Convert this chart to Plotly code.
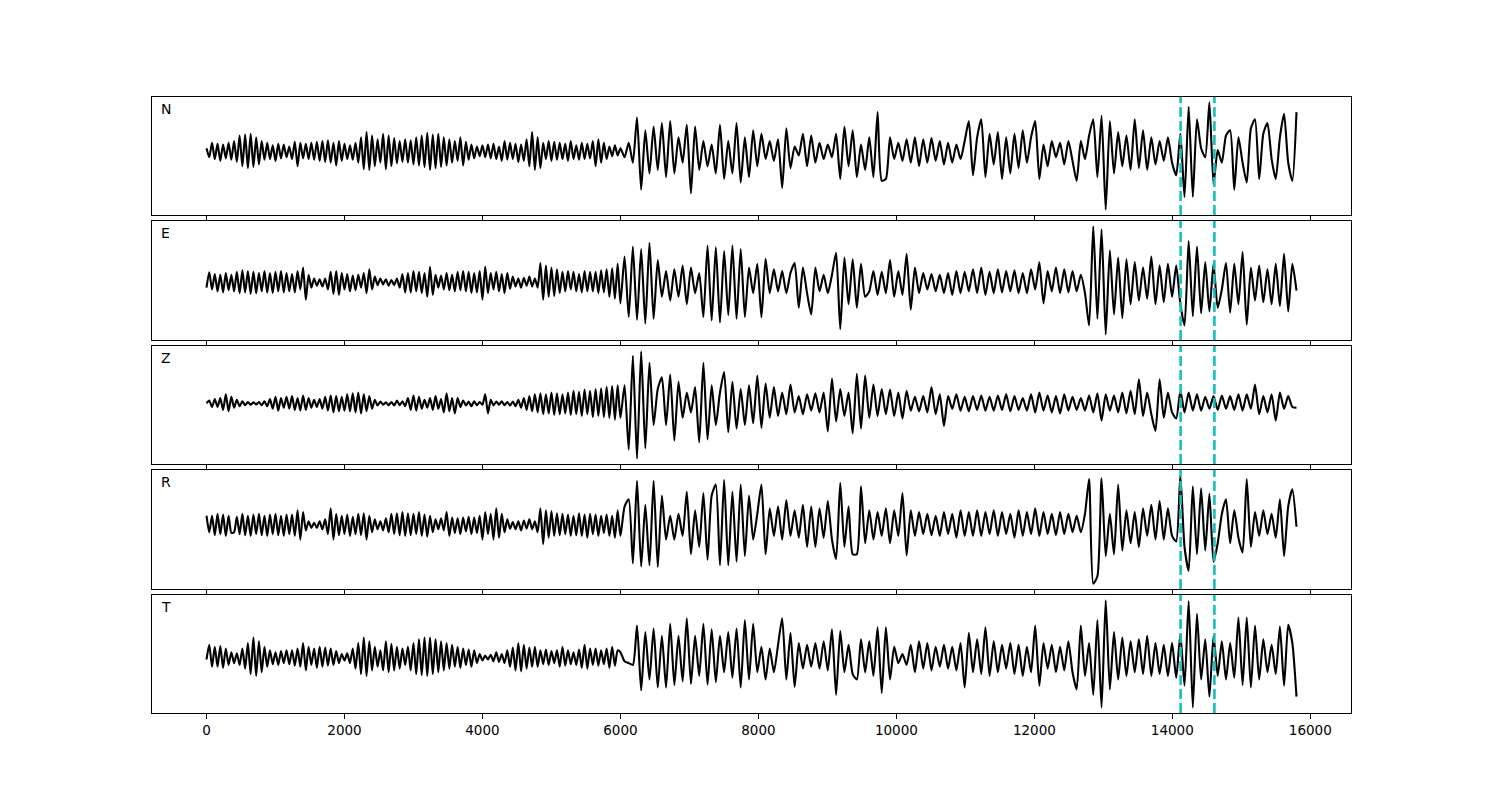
import numpy as np
import plotly.graph_objects as go

# ---------------- data (amplitudes, arbitrary units) -------------
components = ["N", "E", "Z", "R", "T"]
early_step = 40.0          # sample step of the first part (0 .. 5960)
late_start = 6000.0        # second part spans 6000 .. 15800
end_time = 15800.0
pick_times = [14120, 14610]
x_tick_vals = [0, 2000, 4000, 6000, 8000, 10000, 12000, 14000, 16000]
x_tick_text = ["0", "2000", "4000", "6000", "8000", "10000", "12000", "14000", "16000"]

N_early = [
    10, -15, 25, -20, 22, -25, 20, -18, 25, -22,
    30, -28, 45, -40, 48, -45, 50, -42, 40, -35,
    30, -22, 25, -20, 18, -25, 22, -18, 20, -15,
    15, -20, 28, -40, 25, -18, 22, -20, 25, -22,
    28, -25, 30, -28, 32, -30, 25, -38, 30, -25,
    22, -20, 18, -22, 25, -30, 40, -48, 55, -50,
    45, -40, 35, -30, 50, -48, 45, -40, 38, -32,
    30, -28, 35, -30, 32, -35, 40, -38, 45, -42,
    52, -50, 48, -45, 50, -42, 40, -38, 35, -30,
    30, -25, 40, -38, 28, -22, 20, -18, 15, -12,
    18, -15, 20, -18, 22, -20, 15, -25, 30, -22,
    25, -20, 22, -28, 20, -25, 35, -40, 55, -50,
    40, -45, 25, -20, 30, -25, 28, -22, 25, -20,
    22, -25, 30, -20, 18, -22, 25, -20, 22, -18,
    30, -40, 35, -30, 25, -20, 15, -12, 18, -10,
]
N_late = [
    10, -15, 25, -30, 95, -105, 60, -60, 70, -50,
    80, -70, 85, -60, 40, -30, 75, -115, 70, -50,
    30, -40, 20, -60, 75, -75, 30, -60, 80, -85,
    40, -70, 60, -40, 50, -20, 30, -25, 35, -100,
    65, -45, 15, -10, 50, -40, 45, -30, 25, -20,
    20, -15, 50, -75, 70, -40, 60, -70, 20, -50,
    40, -70, 110, -80, -75, 40, -20, 25, -25, 35,
    -30, 40, -40, 35, -30, 38, -25, 30, -35, 25,
    -30, 20, -20, 30, 85, -65, 40, 90, -70, 50,
    -35, 55, -75, 40, -60, 50, -45, 60, -30, 40,
    85, -75, 20, -40, 30, -15, 25, -35, 30, -25,
    -80, 30, -20, 45, 90, -70, 100, -160, 85, -60,
    55, -40, 45, -50, 90, -45, 60, -50, 40, -35,
    30, -25, 40, -30, -65, 50, -125, 125, -125, 90,
    10, -15, 137, -90, 5, -30, 45, 60, -105, 40,
    -30, -85, 65, 90, -75, 50, 80, -20, -75, 40,
    105, -30, -80, 110,
]

E_early = [
    -15, 27, -20, 22, -25, 20, -28, 25, -22, 20,
    -25, 28, -30, 32, -28, 30, -32, 28, -30, 25,
    -25, 30, -28, 25, -30, 28, -25, 30, -28, 25,
    -25, 22, -28, 30, -20, 40, -48, 20, -15, 10,
    -10, 8, -12, 10, -20, 28, -32, 30, -35, 25,
    -20, 22, -25, 18, -22, 20, -15, 25, -30, 35,
    -20, 15, -8, 10, -6, 8, -10, 6, -8, 10,
    -15, 22, -28, 25, -28, 30, -25, 28, -30, 25,
    -40, 42, -35, 20, -15, 18, -20, 25, -22, 20,
    -25, 28, -22, 30, -25, 28, -30, 25, -28, 30,
    -48, 42, -30, 25, -20, 28, -25, 22, -30, 25,
    -18, 15, -12, 10, -15, 12, -10, 15, -12, 10,
    -15, 52, -48, 45, -40, 40, -38, 35, -30, 28,
    -25, 30, -20, 28, -25, 22, -28, 30, -25, 28,
    -25, 28, -30, 32, -28, 35, -40, 38, -45, 50,
]
E_late = [
    -58, 70, -95, 97, -103, 90, -113, 107, -100, 60,
    -40, 30, -50, 35, -40, 45, -60, 40, -30, 25,
    -95, 100, -105, 95, -110, 85, -90, 100, -100, 90,
    -95, 40, -30, 50, -96, 64, -30, 35, -25, 30,
    -30, 25, 52, -70, 40, -30, -88, 40, -25, 20,
    -30, 20, 80, -128, 67, -60, 62, -70, 50, -40,
    -25, 30, -35, 28, -30, 60, -40, 30, -35, 77,
    -75, 40, -30, 25, -20, 22, -25, 20, -30, 25,
    -35, 30, -30, 28, -25, 35, -30, 40, -35, 28,
    -30, 35, -28, 30, -25, 32, -30, 25, -30, 35,
    -20, 54, -58, 30, -25, 40, -30, 35, -28, 30,
    -25, 20, -30, -118, 152, -100, 144, -143, 87, -88,
    67, -98, 62, -60, 55, -50, 40, -45, 70, -60,
    45, -55, 50, -40, 45, -60, -118, 112, -93, 97,
    -85, 55, -80, 50, -70, -20, 52, -83, 50, -60,
    82, -116, 40, -50, 45, -55, 35, -60, 50, -65,
    77, -80, 50, -23,
]

Z_early = [
    0, 8, -10, 12, -10, 15, -18, 25, -22, 18,
    -12, 10, -8, 6, -5, 4, -4, 3, -3, 4,
    -5, 6, -8, 12, -15, 18, -20, 15, -12, 18,
    -15, 20, -18, 15, -20, 22, -18, 15, -12, 10,
    -10, 12, -15, 18, -20, 22, -25, 20, -22, 18,
    -20, 25, -22, 28, -25, 30, -28, 25, -22, 20,
    -15, 10, -6, 5, -4, 3, -5, 4, -6, 8,
    -5, 6, -8, 15, -18, 22, -20, 18, -15, 10,
    -12, 15, -18, 20, -15, 12, -25, 28, -22, 15,
    -28, 15, -10, 8, -6, 5, -8, 6, -5, 4,
    -4, 25, -28, 10, -6, 5, -4, 6, -5, 4,
    -6, 5, -8, 10, -12, 15, -18, 20, -22, 25,
    -25, 28, -30, 25, -28, 30, -32, 28, -30, 25,
    -28, 30, -32, 35, -30, 32, -35, 38, -30, 35,
    -38, 40, -35, 42, -38, 45, -40, 48, -45, 50,
]
Z_late = [
    -40, 50, -128, 132, -153, 144, -125, 112, -60, 40,
    72, -60, 80, -103, 60, -40, 30, -25, 45, -108,
    112, -100, 50, -60, 30, 87, -80, 60, -70, 40,
    -60, 50, -55, 77, -68, 55, -40, 45, -35, 30,
    -30, 52, -25, 20, -30, 25, -20, 28, -25, 30,
    -78, 69, -50, 40, -35, 30, -83, 82, -70, 77,
    -40, 52, -35, 40, -30, 38, -35, 30, -42, 35,
    -20, 18, -22, 20, -25, 45, -30, 25, -63, 20,
    -15, 25, -20, 18, -22, 20, -18, 22, -20, 18,
    -20, 22, -18, 25, -22, 20, -18, 15, -20, 25,
    -25, 30, -20, 22, -25, 20, -28, 25, -20, 18,
    -18, 15, -20, 22, -25, 28, -48, 25, -20, 22,
    -25, 30, -28, 35, -30, 67, -35, 30, -30, -76,
    67, -40, 30, -25, -42, 35, -25, 30, -20, 25,
    -20, 18, -15, 20, -18, 22, -15, 20, -18, 25,
    -20, 25, -15, 52, -30, 20, -25, 25, -48, 30,
    -15, 20, -10, -12,
]

R_early = [
    25, -20, 25, -28, 30, -25, 28, -30, 25, -22,
    -20, 22, -25, 30, -28, 25, -30, 28, -25, 30,
    -28, 25, -30, 28, -25, 30, -28, 25, -30, 28,
    -25, 28, -30, 40, -40, 35, -15, 10, -8, 6,
    -8, 10, -12, 15, -25, 45, -40, 30, -28, 25,
    -25, 28, -30, 22, -25, 30, -28, 32, -40, 25,
    -20, 15, -12, 10, -15, 18, -20, 30, -25, 32,
    -28, 35, -30, 32, -28, 30, -25, 35, -30, 28,
    -32, 25, -20, 15, -12, 18, -15, 35, -30, 20,
    -22, 18, -25, 20, -18, 22, -25, 20, -22, 25,
    -40, 35, -25, 30, -40, 45, -35, 30, -20, 15,
    -10, 8, -12, 10, -15, 12, -10, 15, -12, 10,
    -20, 45, -52, 40, -35, 38, -30, 32, -28, 30,
    -25, 28, -30, 25, -28, 32, -30, 28, -35, 30,
    -25, 28, -30, 25, -22, 28, -30, 25, -35, 40,
]
R_late = [
    -30, 50, 70, -105, 120, -113, 55, -110, 120, -115,
    80, -40, 25, -40, 30, -30, 90, -80, 40, -60,
    87, -95, 80, 110, -110, 123, -110, 90, -100, 110,
    -85, 80, -40, 30, 110, -80, 45, -30, 50, -40,
    68, -30, 40, -35, 55, -60, 50, -60, 45, -35,
    65, -40, -93, 115, -60, 50, -80, -80, 105, -50,
    40, -40, 35, -30, 45, -50, 40, -30, 87, -83,
    40, -30, 35, -25, 30, -28, 25, -30, 35, -25,
    30, -35, 40, -30, 35, -30, 40, -30, 35, -25,
    40, -30, 35, -25, 30, -35, 40, -30, 35, -25,
    45, -30, 35, -25, 30, -28, 35, -25, 30, -20,
    25, -20, 30, 125, -160, -140, 127, -85, 30, -80,
    110, -70, 40, -50, 35, -60, 45, -30, 55, -40,
    65, -40, 45, -30, -45, 135, -60, -125, 105, -80,
    100, -70, 85, -100, -50, 30, 70, -50, 40, -35,
    -75, 125, -60, 35, -30, 40, -25, 30, -35, 70,
    -85, 50, 97, -5,
]

T_early = [
    -5, 35, -25, 30, -25, 32, -28, 25, -20, 15,
    -15, 12, -20, 25, -30, 40, -45, 55, -50, 45,
    -40, 30, -25, 20, -18, 15, -20, 18, -15, 20,
    -18, 20, -22, 25, -25, 40, -35, 30, -20, 25,
    -28, 30, -25, 28, -22, 25, -20, 18, -15, 10,
    -8, 12, -15, 25, -30, 40, -45, 55, -50, 45,
    -35, 30, -25, 20, -35, 45, -40, 38, -35, 30,
    -30, 25, -20, 30, -35, 40, -45, 50, -48, 55,
    -50, 55, -45, 50, -40, 45, -35, 40, -30, 35,
    -25, 30, -28, 25, -20, 22, -25, 20, -15, 10,
    -8, 6, -5, 8, -10, 15, -12, 10, -15, 20,
    -25, 28, -35, 40, -38, 35, -30, 28, -25, 30,
    -25, 20, -18, 22, -20, 18, -15, 20, -25, 30,
    -22, 20, -18, 15, -20, 22, -28, 35, -30, 25,
    -20, 25, -22, 20, -18, 25, -28, 30, -22, 20,
]
T_late = [
    15, -10, -15, -20, 88, -90, 70, -60, 80, -82,
    60, -82, 93, -75, 60, -65, 108, -72, 60, -50,
    93, -74, 78, -67, 60, -40, 70, -55, 80, -82,
    103, -60, 93, -40, 30, -60, 25, -40, 35, 108,
    -60, 68, -80, 40, -30, 35, -25, 40, -30, 45,
    -35, 78, -102, 73, -40, 35, -45, -60, 50, -40,
    45, -50, 83, -97, 83, -60, 30, -15, 10, -20,
    35, -40, 45, -30, 40, -35, 30, -25, 35, -30,
    30, -35, 40, -82, 68, -40, 50, -45, 83, -50,
    45, -40, 35, -30, 40, -45, 35, -50, 30, -40,
    88, -77, 40, -30, 35, -40, 30, -35, 45, -40,
    -87, 88, -50, 40, -102, 103, -137, 157, -87, 70,
    -60, 55, -50, 45, -40, 50, -45, 60, -50, 40,
    -45, 35, -50, 40, -55, 65, -77, 155, -137, 120,
    -60, 50, -107, 60, -50, 45, -60, 40, -55, 110,
    -75, 110, -82, 88, -60, 50, -40, 35, -45, 85,
    -77, 90, 40, -107,
]

series = {
    "N": (N_early, N_late),
    "E": (E_early, E_late),
    "Z": (Z_early, Z_late),
    "R": (R_early, R_late),
    "T": (T_early, T_late),
}

# ---------------- figure ----------------
W, H = 1500, 800
shift = 7   # page offset of the plot inside the browser
mt, mb, ml, mr = 96 - shift, 88 + shift, 151 - shift, 150 + shift
panel_px = [(96, 214), (220, 339), (345, 463), (469, 588), (594, 712)]
plot_h = 712 - 96

fig = go.Figure()
shapes = []
annotations = []
for k, comp in enumerate(components):
    early, late = series[comp]
    t = np.concatenate([np.arange(len(early)) * early_step,
                        np.linspace(late_start, end_time, len(late))])
    y = np.array(early + late, dtype=float)
    suffix = "" if k == 0 else str(k + 1)
    fig.add_trace(go.Scatter(
        x=t, y=y, mode="lines",
        line=dict(color="black", width=2.1, shape="spline", smoothing=0.6),
        xaxis="x" + suffix, yaxis="y" + suffix, showlegend=False,
        hoverinfo="skip"))
    lo, hi = y.min(), y.max()
    pad = 0.05 * (hi - lo)
    top, bot = panel_px[k]
    dom = [(712 - bot) / plot_h, (712 - top) / plot_h]
    fig.update_layout(**{
        "yaxis" + suffix: dict(domain=dom, range=[lo - pad, hi + pad],
                               showticklabels=False, ticks="", showgrid=False,
                               zeroline=False, showline=True, mirror=True,
                               linecolor="black", linewidth=1,
                               anchor="x" + suffix),
        "xaxis" + suffix: dict(domain=[0, 1], range=[-790, 16590],
                               tickvals=x_tick_vals, ticktext=x_tick_text,
                               showticklabels=(k == len(components) - 1),
                               ticks="outside", ticklen=5, tickwidth=1,
                               tickcolor="black", showgrid=False, zeroline=False,
                               showline=True, mirror=True, linecolor="black",
                               linewidth=1, anchor="y" + suffix,
                               matches=None if k == 0 else "x",
                               tickfont=dict(family="DejaVu Sans", size=13.5,
                                             color="black")),
    })
    for pt in pick_times:
        shapes.append(dict(type="line", xref="x" + suffix, yref="y" + suffix + " domain",
                           x0=pt, x1=pt, y0=0, y1=1,
                           line=dict(color="rgb(20,191,191)", width=2.6, dash="10px,4px")))
    annotations.append(dict(text=comp, xref="x" + suffix + " domain",
                            yref="y" + suffix + " domain", x=0.006, y=0.9,
                            xanchor="left", yanchor="middle", showarrow=False,
                            font=dict(family="DejaVu Sans", size=14, color="black")))

fig.update_layout(width=W, height=H, margin=dict(l=ml, r=mr, t=mt, b=mb),
                  paper_bgcolor="white", plot_bgcolor="white",
                  shapes=shapes, annotations=annotations, showlegend=False)
fig.write_html("out.html")
